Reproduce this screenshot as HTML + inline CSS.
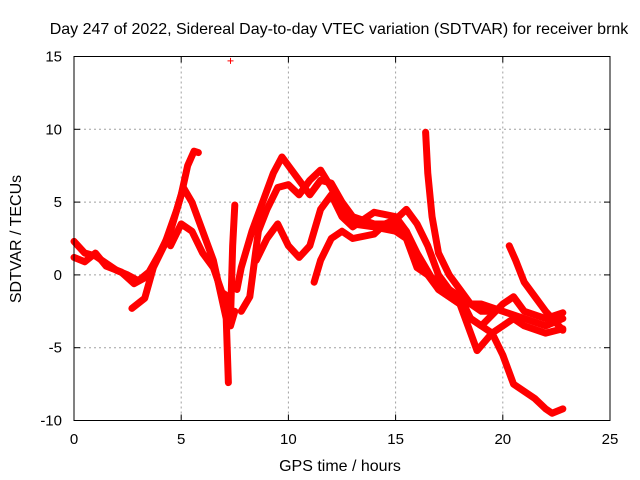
<!DOCTYPE html>
<html><head><meta charset="utf-8"><style>
body{margin:0;background:#fff}
svg{display:block;font-family:"Liberation Sans",sans-serif}
</style></head><body>
<svg id="chart" width="640" height="480">
<text x="339" y="34" font-size="16" text-anchor="middle">Day 247 of 2022, Sidereal Day-to-day VTEC variation (SDTVAR) for receiver brnk</text>
<text x="340" y="471" font-size="16" text-anchor="middle">GPS time / hours</text>
<text transform="translate(21,239) rotate(-90)" font-size="16" text-anchor="middle">SDTVAR / TECUs</text>
<g id="grid"></g>
<g id="series"></g>
<rect x="74" y="56.5" width="536" height="364" fill="none" stroke="#000" stroke-width="1"/>
<g id="ticks"></g>
</svg>
<script>
const xTicks=[0,5,10,15,20,25];
const yTicks=[-10,-5,0,5,10,15];
const track1=[[0,2.3],[0.5,1.5],[1,1.3],[1.5,0.8],[2,0.3],[2.5,0],[3,-0.4],[3.5,0.2],[4,1.5],[4.5,3],[5,5.5],[5.3,7.5],[5.6,8.5],[5.8,8.4]];
const track2=[[0,1.2],[0.5,0.9],[1,1.5],[1.5,0.6],[2.2,0.2],[2.8,-0.6],[3.3,-0.2]];
const track3=[[2.7,-2.3],[3.3,-1.6],[3.7,0.5],[4.2,2],[4.8,4.5],[5.1,6],[5.5,5],[6,3],[6.5,1],[6.8,-1],[7.1,-3],[7.2,-7.4]];
const track4=[[4.5,2],[5,3.5],[5.5,3],[6,1.5],[6.5,0.5],[6.9,-1.2],[7.2,-1.5],[7.3,-3.5],[7.5,-2.5]];
const track5=[[7.3,-3],[7.4,2],[7.5,4.8]];
const track6=[[7.6,-1],[7.8,0.5],[8.3,3],[8.8,5],[9.3,7],[9.7,8.1],[10,7.5],[10.5,6.5],[11,5.5],[11.5,6.5],[12,6.3],[12.5,5],[13,4],[14,3.5],[15,3.5],[15.5,3],[16,1],[16.5,0],[17,-1],[17.5,-1.5],[18,-2],[19,-2],[20,-2.5],[21,-3],[22,-3.5],[22.8,-3]];
const track7=[[7.8,-2.5],[8.2,-1.5],[8.6,3],[9,4.5],[9.5,6],[10,6.2],[10.5,5.5],[11,6.5],[11.5,7.2],[12,6],[12.5,4.5],[13,3.5],[14,3.3],[15,3],[15.5,2.5],[16,0.5],[17,-0.5],[18,-1.5],[18.5,-3],[19,-3.5],[20,-2],[20.5,-1.5],[21,-2.5],[22,-3],[22.8,-2.6]];
const track8=[[8.5,1],[9,2.5],[9.5,3.5],[10,2],[10.5,1.2],[11,2],[11.5,4.5],[12,5.5],[12.5,4],[13,3.3],[14,4.3],[15,4],[15.5,3],[16,1.5],[17,-1],[18,-2],[18.5,-4],[18.8,-5.2],[19.5,-4],[20,-3.5],[20.5,-3],[21,-3.5],[22,-4],[22.8,-3.7]];
const track9=[[11.2,-0.5],[11.5,1],[12,2.5],[12.5,3],[13,2.5],[14,2.8],[14.5,3.5],[15,3.8],[15.5,4.5],[16,3.5],[16.5,2],[17,0],[17.5,-1],[18,-2],[18.5,-3],[19,-3.5],[19.5,-4],[20,-5.5],[20.5,-7.5],[21,-8],[21.5,-8.5],[22,-9.2],[22.3,-9.5],[22.8,-9.2]];
const track10=[[16.4,9.8],[16.5,7],[16.7,4],[17,1.5],[17.5,0],[18,-1],[18.5,-2],[19,-2.5],[19.5,-2.5]];
const track11=[[20.3,2],[20.6,1],[21,-0.5],[21.5,-1.5],[22,-2.5],[22.8,-3.8]];
const outliers=[[7.3,14.7]];
const tracks=[track1,track2,track3,track4,track5,track6,track7,track8,track9,track10,track11];
const X0=74,X1=610,Y0=420.5,Y1=56.5;
function sx(v){return X0+(v-0)/(25-0)*(X1-X0);}
function sy(v){return Y0-(v+10)/(25)*(Y0-Y1);}
const NS="http://www.w3.org/2000/svg";
const grid=document.getElementById('grid'),ser=document.getElementById('series'),tk=document.getElementById('ticks');
function mk(tag,attrs,parent){const e=document.createElementNS(NS,tag);for(const k in attrs)e.setAttribute(k,attrs[k]);parent.appendChild(e);return e;}
xTicks.forEach(t=>{
 const x=sx(t);
 if(t>0&&t<25){const g=mk('line',{x1:x,x2:x,y1:Y1,y2:Y0,stroke:'#a0a0a0','stroke-dasharray':'2,3'},grid);
 
 }
 mk('line',{x1:x,x2:x,y1:Y0,y2:Y0-6,stroke:'#000'},tk);
 mk('line',{x1:x,x2:x,y1:Y1,y2:Y1+6,stroke:'#000'},tk);
 const l=mk('text',{x:x,y:444,'font-size':15,'text-anchor':'middle'},tk);l.textContent=t;
 
 
});
yTicks.forEach(t=>{
 const y=sy(t);
 if(t>-10&&t<15){const g=mk('line',{x1:X0,x2:X1,y1:y,y2:y,stroke:'#a0a0a0','stroke-dasharray':'2,3'},grid);
 
 }
 mk('line',{x1:X0,x2:X0+6,y1:y,y2:y,stroke:'#000'},tk);
 mk('line',{x1:X1,x2:X1-6,y1:y,y2:y,stroke:'#000'},tk);
 const l=mk('text',{x:62,y:y+5,'font-size':15,'text-anchor':'end'},tk);l.textContent=t;
 
 
});
tracks.forEach((tr,i)=>{
 const p=mk('polyline',{points:tr.map(d=>sx(d[0])+','+sy(d[1])).join(' '),fill:'none',stroke:'#f00','stroke-width':7,'stroke-linejoin':'round','stroke-linecap':'round'},ser);
 
 
});
outliers.forEach(d=>{
 const x=sx(d[0]),y=sy(d[1]);
 const p=mk('path',{d:`M${x-3},${y}H${x+3}M${x},${y-3}V${y+3}`,stroke:'#f00','stroke-width':1},ser);
 
 
});
</script>
</body></html>
